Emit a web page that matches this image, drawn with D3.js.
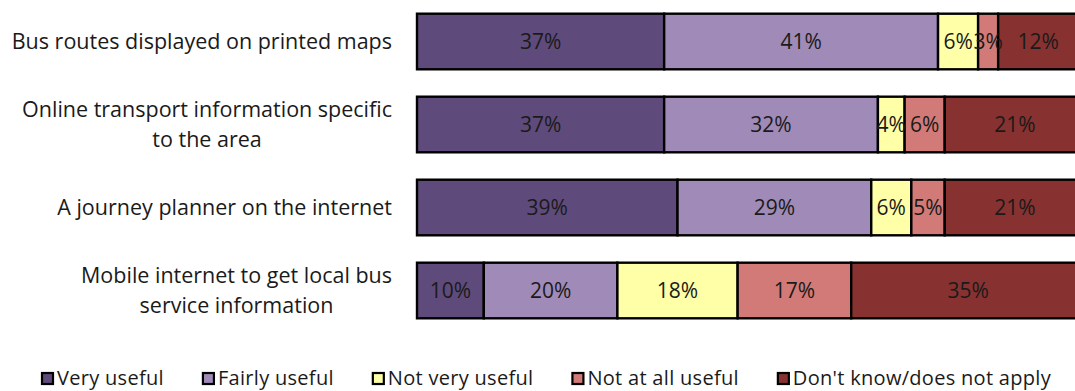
<!DOCTYPE html>
<html><head><meta charset="utf-8">
<script src="https://cdn.jsdelivr.net/npm/d3@7"></script>
<style>
body{margin:0;background:#fff;}
svg{display:block;}
text{font-family:"Open Sans",sans-serif;fill:#1a1a1a;}
</style></head>
<body>
<svg id="chart" width="1075" height="391"></svg>
<script>
const categories = [
  ["Bus routes displayed on printed maps"],
  ["Online transport information specific", "to the area"],
  ["A journey planner on the internet"],
  ["Mobile internet to get local bus", "service information"]
];
const seriesNames = ["Very useful","Fairly useful","Not very useful","Not at all useful","Don't know/does not apply"];
const veryUseful   = [37,37,39,10];
const fairlyUseful = [41,32,29,20];
const notVery      = [6,4,6,18];
const notAtAll     = [3,6,5,17];
const dontKnow     = [12,21,21,35];
const colors = ["#5f4b7b","#a08ab8","#ffffa8","#d27a78","#873230"];

const svg = d3.select("#chart");
const catKeys = categories.map(c => c.join(" "));
const rows = catKeys.map((k,i)=>({cat:k, "Very useful":veryUseful[i], "Fairly useful":fairlyUseful[i],
  "Not very useful":notVery[i], "Not at all useful":notAtAll[i], "Don't know/does not apply":dontKnow[i]}));

const x = d3.scaleLinear().domain([0,100]).range([417,1085]);
const y = d3.scaleBand().domain(catKeys).range([0,332]).paddingInner(0.33).paddingOuter(0.165);
const color = d3.scaleOrdinal().domain(seriesNames).range(colors);

const stacked = d3.stack().keys(seriesNames)(rows);

const g = svg.append("g");
stacked.forEach(s => {
  g.selectAll(null).data(s).join("rect")
    .attr("x", d => x(d[0]))
    .attr("y", d => y(d.data.cat))
    .attr("width", d => x(d[1]) - x(d[0]))
    .attr("height", y.bandwidth())
    .attr("fill", color(s.key))
    .attr("stroke", "#000")
    .attr("stroke-width", 2.4);
});
stacked.forEach(s => {
  g.selectAll(null).data(s).join("text")
    .attr("x", d => (x(d[0]) + x(d[1]))/2)
    .attr("y", d => y(d.data.cat) + y.bandwidth()/2)
    .attr("dy", "0.36em")
    .attr("text-anchor", "middle")
    .style("font-size", "21px")
    .text(d => (d[1]-d[0]) + "%");
});

// category labels
const lab = svg.append("g");
categories.forEach((lines,i) => {
  const cy = y(catKeys[i]) + y.bandwidth()/2;
  const n = lines.length, lh = 30;
  const t = lab.append("g");
  const texts = lines.map((ln,j) => t.append("text")
    .attr("y", cy + (j - (n-1)/2)*lh)
    .attr("dy","0.36em")
    .attr("text-anchor","middle")
    .style("font-size","21.5px")
    .text(ln));
  const widths = texts.map(tx => tx.node().getComputedTextLength());
  const maxW = d3.max(widths);
  const center = 392 - maxW/2;
  texts.forEach(tx => tx.attr("x", center));
});

// legend
const leg = svg.append("g").attr("transform","translate(41,0)");
let lx = 0;
seriesNames.forEach(name => {
  const it = leg.append("g").attr("transform", `translate(${lx},0)`);
  it.append("rect").attr("x",1).attr("y",373).attr("width",11).attr("height",11)
    .attr("fill", color(name)).attr("stroke","#000").attr("stroke-width",2.2);
  const tx = it.append("text").attr("x",16).attr("y",385)
    .style("font-size","20px").style("letter-spacing","0.3px").text(name);
  const w = 16 + tx.node().getComputedTextLength();
  lx += w + 38;
});
</script>
</body></html>
